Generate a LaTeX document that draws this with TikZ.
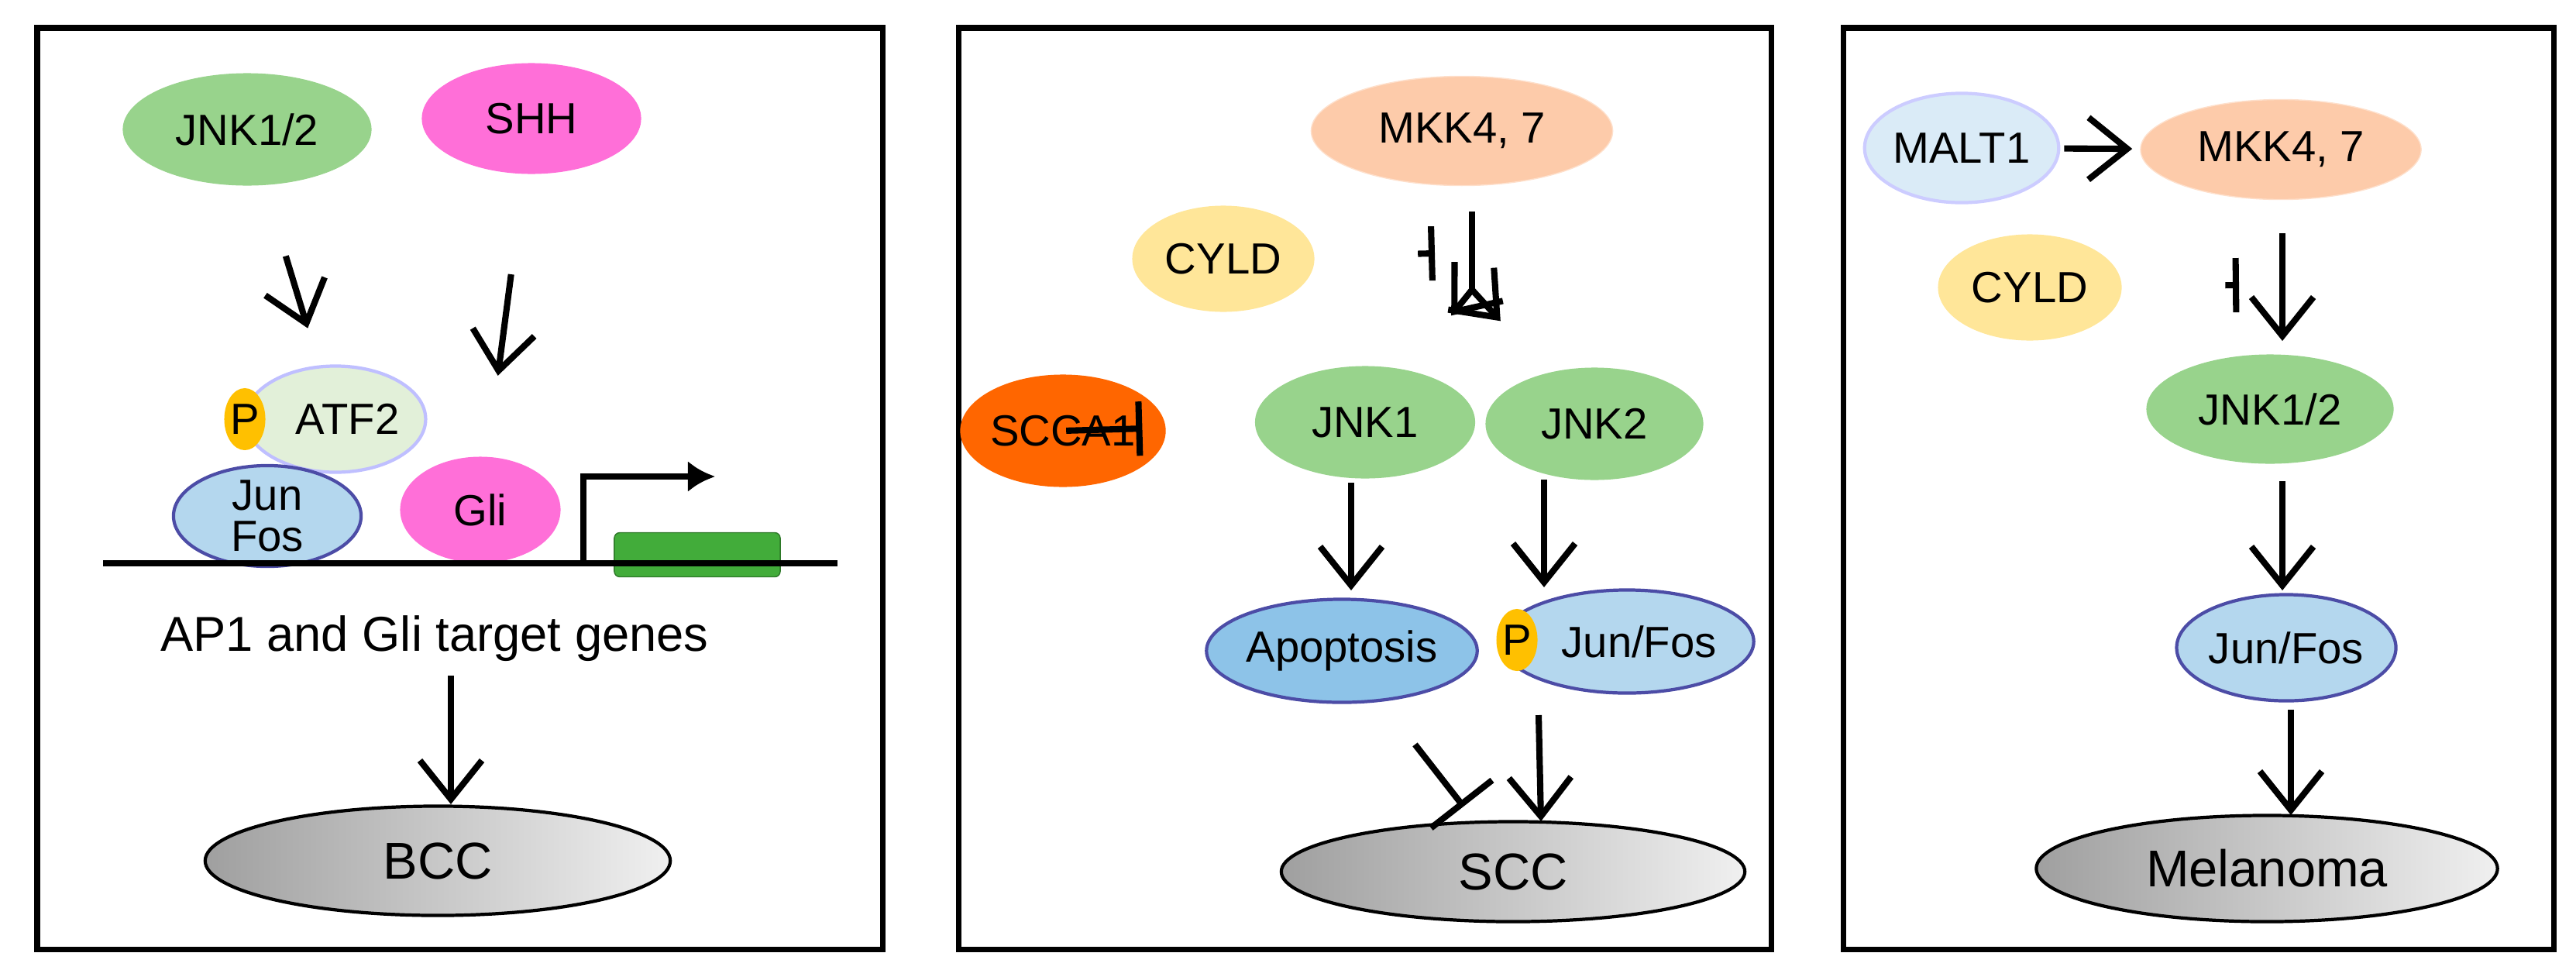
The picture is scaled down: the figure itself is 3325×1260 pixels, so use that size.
\documentclass[tikz,border=0pt]{standalone}
\usepackage{fontspec}
\setmainfont{Liberation Sans}
\usetikzlibrary{positioning,arrows.meta,shapes.geometric}

\definecolor{jnkgreen}{HTML}{98D38C}
\definecolor{shhpink}{HTML}{FF6FD8}
\definecolor{mkkpeach}{HTML}{FDCBAA}
\definecolor{cyldyellow}{HTML}{FFE699}
\definecolor{sccorange}{HTML}{FF6600}
\definecolor{junblue}{HTML}{B4D7EE}
\definecolor{apoblue}{HTML}{8DC3E8}
\definecolor{maltblue}{HTML}{DAEBF7}
\definecolor{atfgreen}{HTML}{E2F0D9}
\definecolor{pyellow}{HTML}{FFC000}
\definecolor{genegreen}{HTML}{42AC3A}

\tikzset{
  prot/.style={ellipse,draw=none,inner sep=0pt,font=\fontsize{16}{18}\selectfont},
  jun/.style={prot,fill=junblue,draw=blue!50!black!70,line width=1.2pt},
  phos/.style={ellipse,fill=pyellow,inner sep=0pt,minimum width=0.5cm,minimum height=0.8cm,font=\fontsize{16}{18}\selectfont},
  tumor/.style={ellipse,draw=black,line width=1.2pt,left color=gray!75,right color=gray!12,inner sep=0pt,font=\fontsize{19}{21}\selectfont},
  act/.style={-{Straight Barb[length=5mm,width=8mm,line width=2.3pt]},line width=2.3pt},
  inh/.style={-{Bar[width=7mm,line width=2.3pt]},line width=2.3pt},
  panel/.style={draw=black,line width=2pt}
}

\begin{document}
\begin{tikzpicture}[x=0.01cm,y=-0.01cm]
  \useasboundingbox (0,0) rectangle (3325,1260);

  %panels
  \draw[panel] (48,36) rectangle (1139,1225);
  \draw[panel] (1237,36) rectangle (2286,1225);
  \draw[panel] (2379,36) rectangle (3296,1225);

  %left panel
  \node[prot,fill=jnkgreen,minimum width=3.21cm,minimum height=1.45cm] (jnkA) at (319,167) {JNK1/2};
  \node[prot,fill=shhpink,minimum width=2.83cm,minimum height=1.43cm] (shh) at (686,153) {SHH};
  \node[prot,fill=atfgreen,draw=blue!25,line width=1.2pt,minimum width=2.04cm,minimum height=1.37cm] (atf) at (433,541) {\ \ ATF2};
  \node[phos] (pA) at (316,541) {P};
  \node[jun,align=center,minimum width=2.42cm,minimum height=1.29cm,font=\fontsize{16}{15}\selectfont] (junA) at (345,666) {Jun\\Fos};
  \node[prot,fill=shhpink,minimum width=2.07cm,minimum height=1.37cm] (gli) at (620,658) {Gli};
  \node[draw=genegreen!70!black,fill=genegreen,rounded corners=2pt,minimum width=2.14cm,minimum height=0.57cm,inner sep=0pt] (gene) at (900,716) {};
  \coordinate (dnaL) at (133,727);
  \coordinate (dnaR) at (1081,727);
  \coordinate (tss) at (753,727);
  \coordinate (tssEnd) at (923,615);
  \node[font=\fontsize{18}{20}\selectfont] (target) at (561,824) {AP1 and Gli target genes};
  \node[tumor,minimum width=6cm,minimum height=1.41cm] (bcc) at (565,1111) {BCC};
  \coordinate (tA) at (582,872);
  \coordinate (tB) at (582,1038);

  \draw[line width=2.3pt] (dnaL) -- (dnaR);
  \draw[line width=2.3pt,-{Latex[length=3.5mm,width=4mm]}] (tss) |- (tssEnd);
  \draw[act,shorten <=0.95cm,shorten >=0.5cm] (jnkA) -- (atf);
  \draw[act,shorten <=1.3cm,shorten >=1.05cm] (shh) -- (gli);
  \draw[act] (tA) -- (tB);

  %middle panel
  \node[prot,fill=mkkpeach,draw=mkkpeach!60,minimum width=3.89cm,minimum height=1.41cm] (mkkB) at (1887,169) {MKK4, 7};
  \node[prot,fill=cyldyellow,minimum width=2.35cm,minimum height=1.37cm] (cyldB) at (1579,334) {CYLD};
  \node[prot,fill=sccorange,minimum width=2.39cm,minimum height=1.45cm] (scca) at (1372,556) {SCCA1};
  \node[prot,fill=jnkgreen,minimum width=2.84cm,minimum height=1.45cm] (jnk1) at (1762,545) {JNK1};
  \node[prot,fill=jnkgreen,minimum width=2.81cm,minimum height=1.45cm] (jnk2) at (2058,547) {JNK2};
  \node[jun,fill=apoblue,minimum width=2.77cm,minimum height=1.33cm] (apo) at (1732,840) {Apoptosis};
  \node[jun,minimum width=2.65cm,minimum height=1.33cm] (junB) at (2100,828) {\ \ Jun/Fos};
  \node[phos] (pB) at (1958,826) {P};
  \node[tumor,minimum width=5.98cm,minimum height=1.29cm] (scc) at (1953,1125) {SCC};
  \coordinate (forkTop) at (1900,273);
  \coordinate (fork) at (1900,374);
  \coordinate (cyldStop) at (1852,327);
  \coordinate (sccStop) at (1889,1041);
  \coordinate (j1a) at (1744,623);
  \coordinate (j1b) at (1744,762);
  \coordinate (j2a) at (1993,619);
  \coordinate (j2b) at (1993,758);
  \coordinate (j3a) at (1986,923);
  \coordinate (j3b) at (1989,1060);

  \draw[line width=2.3pt] (forkTop) -- (fork);
  \draw[act,shorten >=0.9cm] (fork) -- (jnk1);
  \draw[act,shorten >=0.9cm] (fork) -- (jnk2);
  \draw[inh,shorten <=1.33cm] (cyldB) -- (cyldStop);
  \draw[inh,shorten <=1.29cm,shorten >=1.45cm] (scca) -- (jnk1);
  \draw[act] (j1a) -- (j1b);
  \draw[act] (j2a) -- (j2b);
  \draw[-{Bar[width=10mm,line width=2.3pt]},line width=2.3pt,shorten <=0.7cm] (apo) -- (sccStop);
  \draw[act] (j3a) -- (j3b);

  %right panel
  \node[prot,fill=maltblue,draw=blue!20,line width=1.2pt,minimum width=2.37cm,minimum height=1.41cm] (malt) at (2532,191) {MALT1};
  \node[prot,fill=mkkpeach,draw=mkkpeach!60,minimum width=3.62cm,minimum height=1.29cm] (mkkC) at (2944,193) {MKK4, 7};
  \node[prot,fill=cyldyellow,minimum width=2.37cm,minimum height=1.37cm] (cyldC) at (2620,371) {CYLD};
  \node[prot,fill=jnkgreen,minimum width=3.19cm,minimum height=1.41cm] (jnkC) at (2930,528) {JNK1/2};
  \node[jun,minimum width=2.8cm,minimum height=1.37cm] (junC) at (2951,836) {Jun/Fos};
  \node[tumor,minimum width=5.95cm,minimum height=1.37cm] (mel) at (2926,1121) {Melanoma};
  \coordinate (cyldStopC) at (2890,368);
  \coordinate (mA) at (2946,301);
  \coordinate (mB) at (2946,440);
  \coordinate (mC) at (2946,621);
  \coordinate (mD) at (2946,762);
  \coordinate (mE) at (2957,916);
  \coordinate (mF) at (2957,1052);

  \draw[act,shorten <=0.05cm,shorten >=0.1cm] (malt) -- (mkkC);
  \draw[act] (mA) -- (mB);
  \draw[inh,shorten <=1.33cm] (cyldC) -- (cyldStopC);
  \draw[act] (mC) -- (mD);
  \draw[act] (mE) -- (mF);
\end{tikzpicture}
\end{document}
